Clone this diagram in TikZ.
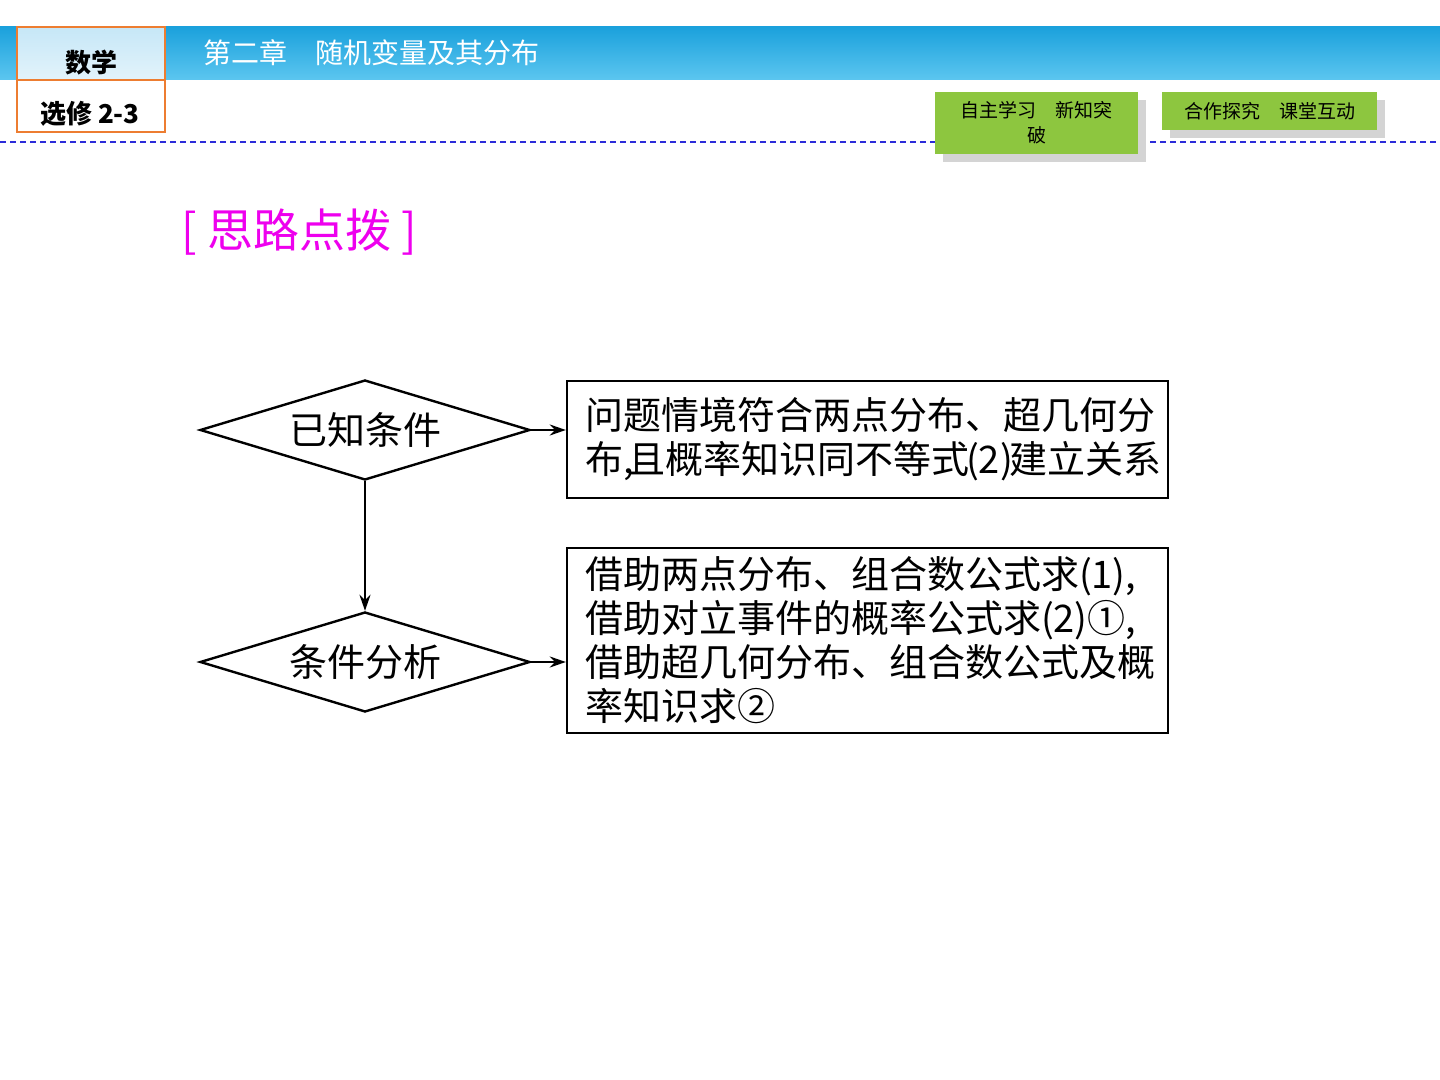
\documentclass[tikz,border=0pt]{standalone}
\usepackage{fontspec}
\setmainfont{Noto Sans CJK SC}
\usetikzlibrary{arrows.meta,shapes.geometric}
\definecolor{barblue}{HTML}{1BA1DC}
\definecolor{barlight}{HTML}{5CC6F0}
\definecolor{cellblue}{HTML}{C6E7F7}
\definecolor{edgeorange}{HTML}{ED7D31}
\definecolor{btngreen}{HTML}{8DC63F}
\definecolor{dashblue}{HTML}{2B2BD9}
\definecolor{tipmagenta}{HTML}{EE00EE}
\begin{document}
\begin{tikzpicture}[x=0.5pt, y=-0.5pt, line width=1.2pt,
  cond/.style={draw, shape=diamond, aspect=3.3, minimum width=165pt, minimum height=50pt, inner sep=0pt, font=\fontsize{19}{22}\selectfont},
  infobox/.style={draw, rectangle, minimum width=300.5pt, inner sep=0pt, text width=282.5pt, align=left, font=\fontsize{19}{22}\selectfont},
  flow/.style={-{Stealth[length=8pt,width=5.5pt]}},
  btn/.style={fill=btngreen, inner sep=0pt, align=center, font=\fontsize{9.5}{12.5}\selectfont}]
  \useasboundingbox (0,0) rectangle (1440,1080);
  \shade[top color=barblue, bottom color=barlight] (0,27) rectangle (1440,80);
  \shade[top color=cellblue, bottom color=cellblue!50!white] (17,27) rectangle (165,80);
  \fill[white] (17,80) rectangle (165,132);
  \draw[edgeorange, line width=0.8pt] (17,27) rectangle (165,132) (17,80) -- (165,80);
  \node[font=\fontsize{13}{13}\selectfont\bfseries] (subject) at (91,63) {数学};
  \node[font=\fontsize{13}{13}\selectfont\bfseries] (elective) at (90,114) {选修 2-3};
  \node[white, anchor=west, inner sep=0pt, font=\fontsize{14}{14}\selectfont] (chapter) at (202,53) {第二章\hspace{1em}随机变量及其分布};
  \draw[dashblue, line width=0.7pt, dash pattern=on 3pt off 2pt] (0,142) -- (1440,142);
  \fill[black!17] (943,100) rectangle (1146,162);
  \fill[black!17] (1170,100) rectangle (1385,138);
  \node[btn, minimum width=101.5pt, minimum height=31pt] (selfstudy) at (1036.5,123) {自主学习\hspace{1em}新知突\\破};
  \node[btn, minimum width=107.5pt, minimum height=19pt] (teamwork) at (1269.5,111) {合作探究\hspace{1em}课堂互动};
  \node[tipmagenta, anchor=west, inner sep=0pt, font=\fontsize{23}{24}\selectfont] (tip) at (180,232) {[ 思路点拨 ]};
  \node[cond] (known) at (365,430) {已知条件};
  \node[cond] (analysis) at (365,662) {条件分析};
  \node[infobox, minimum height=58.5pt] (situation) at (867.5,439.5) {问题情境符合两点分布、超几何分\\布,\kern-.15em 且概率知识同不等式\kern-.1em(2)\kern-.1em 建立关系};
  \node[infobox, minimum height=92.5pt] (method) at (867.5,640.5) {借助两点分布、组合数公式求(1),\\借助对立事件的概率公式求(2)①,\\借助超几何分布、组合数公式及概\\率知识求②};
  \draw[flow] (known.east) -- (known.east -| situation.west);
  \draw[flow] (known.south) -- (analysis.north);
  \draw[flow] (analysis.east) -- (analysis.east -| method.west);
\end{tikzpicture}
\end{document}
